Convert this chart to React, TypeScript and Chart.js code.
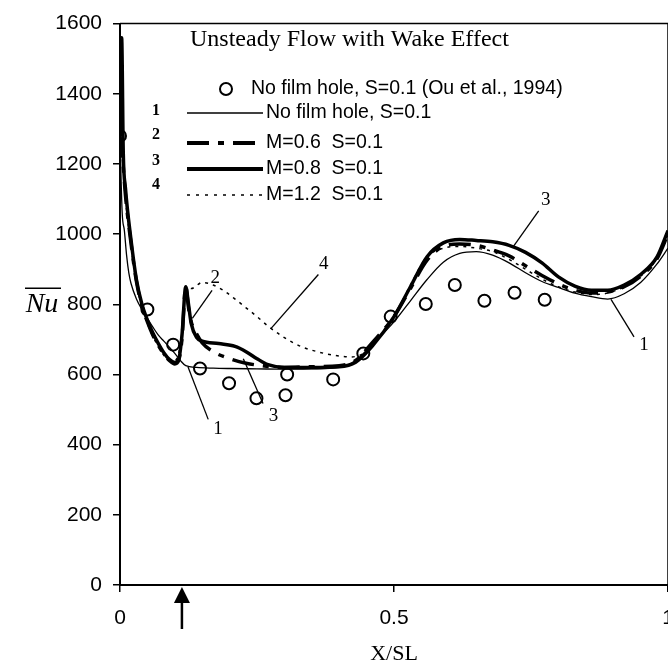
import React, { useEffect, useRef } from "react";
import { Chart, registerables } from "chart.js";

Chart.register(...registerables);

// ---- data ----
const filmHoleX = 0.113;

const ouX = [0, 0.05, 0.097, 0.146, 0.199, 0.249, 0.302, 0.305, 0.389, 0.444, 0.494, 0.558, 0.611, 0.665, 0.72, 0.775];
const ouY = [1280, 785, 685, 617, 575, 532, 541, 600, 586, 660, 765, 801, 855, 810, 833, 813];

const c1X = [0, 0.004, 0.008, 0.012, 0.016, 0.02, 0.03, 0.04, 0.05, 0.06, 0.07, 0.08, 0.09, 0.1, 0.11, 0.12, 0.14, 0.17, 0.2, 0.25, 0.3, 0.35, 0.4, 0.43, 0.46, 0.5, 0.53, 0.56, 0.59, 0.62, 0.65, 0.68, 0.71, 0.74, 0.77, 0.8, 0.83, 0.86, 0.89, 0.92, 0.95, 0.98, 1.0];
const c1Y = [1270, 1060, 1010, 940, 890, 860, 815, 785, 760, 735, 712, 695, 678, 660, 640, 625, 620, 618, 617, 616, 615, 616, 620, 640, 685, 750, 810, 870, 920, 945, 950, 940, 918, 890, 865, 848, 832, 822, 815, 830, 862, 915, 960];

const c2X = [0, 0.005, 0.01, 0.02, 0.03, 0.04, 0.05, 0.06, 0.07, 0.08, 0.09, 0.1, 0.107, 0.113, 0.12, 0.125, 0.13, 0.14, 0.15, 0.17, 0.2, 0.23, 0.26, 0.3, 0.35, 0.4, 0.43, 0.46, 0.5, 0.53, 0.56, 0.59, 0.62, 0.65, 0.68, 0.71, 0.74, 0.77, 0.8, 0.83, 0.86, 0.89, 0.92, 0.95, 0.98, 1.0];
const c2Y = [1280, 1210, 1110, 975, 865, 795, 750, 712, 683, 658, 640, 630, 640, 700, 850, 790, 750, 715, 690, 665, 645, 632, 625, 620, 622, 625, 640, 690, 765, 845, 925, 965, 972, 968, 955, 938, 910, 882, 858, 840, 832, 835, 850, 880, 930, 1000];

const c3X = [0, 0.003, 0.006, 0.01, 0.02, 0.03, 0.04, 0.05, 0.06, 0.07, 0.08, 0.09, 0.1, 0.107, 0.113, 0.12, 0.125, 0.13, 0.14, 0.15, 0.18, 0.21, 0.23, 0.25, 0.27, 0.3, 0.35, 0.4, 0.43, 0.46, 0.5, 0.53, 0.56, 0.59, 0.62, 0.65, 0.68, 0.71, 0.74, 0.77, 0.8, 0.83, 0.86, 0.89, 0.92, 0.95, 0.98, 1.0];
const c3Y = [1280, 1560, 1230, 1130, 985, 870, 800, 755, 718, 688, 662, 643, 634, 642, 710, 850, 800, 745, 705, 695, 688, 680, 665, 645, 628, 620, 620, 622, 635, 680, 765, 850, 935, 975, 985, 982, 978, 968, 948, 918, 878, 852, 840, 840, 855, 885, 935, 1010];

const c4X = [0, 0.005, 0.01, 0.02, 0.03, 0.04, 0.05, 0.06, 0.07, 0.08, 0.09, 0.1, 0.107, 0.113, 0.12, 0.13, 0.15, 0.17, 0.19, 0.21, 0.23, 0.25, 0.27, 0.3, 0.33, 0.36, 0.39, 0.42, 0.45, 0.48, 0.5, 0.53, 0.56, 0.59, 0.62, 0.65, 0.68, 0.71, 0.74, 0.77, 0.8, 0.83, 0.86, 0.89, 0.92, 0.95, 0.98, 1.0];
const c4Y = [1280, 1200, 1100, 965, 860, 790, 745, 708, 680, 655, 640, 640, 660, 720, 850, 845, 862, 855, 838, 815, 790, 765, 738, 705, 680, 665, 655, 650, 665, 720, 760, 855, 935, 960, 965, 960, 950, 928, 900, 872, 850, 835, 828, 832, 850, 880, 930, 995];

const xTicks = [0, 0.5, 1];
const xTickLabels = ["0", "0.5", "1"];

const titleText = "Unsteady Flow with Wake Effect";
const legendOu = "No film hole, S=0.1 (Ou et al., 1994)";
const legendNums = ["1", "2", "3", "4"];
const legendTexts = ["No film hole, S=0.1", "M=0.6  S=0.1", "M=0.8  S=0.1", "M=1.2  S=0.1"];

// curve call-outs
const calloutLabels = ["2", "4", "1", "3", "3", "1"];
const calloutLabelX = [0.174, 0.372, 0.179, 0.28, 0.777, 0.956];
const calloutLabelY = [874, 915, 444, 481, 1097, 684];
const calloutFromX = [0.168, 0.362, 0.161, 0.261, 0.764, 0.938];
const calloutFromY = [840, 885, 472, 517, 1066, 707];
const calloutToX = [0.132, 0.275, 0.124, 0.225, 0.718, 0.896];
const calloutToY = [760, 730, 622, 645, 965, 814];

const pts = (xs: number[], ys: number[]) => xs.map((x, i) => ({ x, y: ys[i] }));

const SANS = "'Liberation Sans', Arial, sans-serif";
const SERIF = "'Liberation Serif', 'Times New Roman', serif";

const decorPlugin = {
  id: "decor",
  afterDraw(chart: any) {
    const { ctx, chartArea } = chart;
    const xs = chart.scales.x;
    const ys = chart.scales.y;
    ctx.save();
    ctx.strokeStyle = "#000";
    ctx.fillStyle = "#000";
    // frame top and right
    ctx.lineWidth = 1.5;
    ctx.beginPath();
    ctx.moveTo(chartArea.left, chartArea.top);
    ctx.lineTo(chartArea.right, chartArea.top);
    ctx.lineTo(chartArea.right, chartArea.bottom);
    ctx.stroke();

    // arrow at film hole
    const ax = xs.getPixelForValue(filmHoleX);
    const ay = chartArea.bottom + 2;
    ctx.beginPath();
    ctx.moveTo(ax, ay);
    ctx.lineTo(ax - 8, ay + 16);
    ctx.lineTo(ax + 8, ay + 16);
    ctx.closePath();
    ctx.fill();
    ctx.lineWidth = 2.5;
    ctx.beginPath();
    ctx.moveTo(ax, ay + 14);
    ctx.lineTo(ax, ay + 42);
    ctx.stroke();

    // y-axis title: Nu with overline
    ctx.font = `italic 28px ${SERIF}`;
    ctx.textAlign = "center";
    ctx.textBaseline = "middle";
    const nx = 42;
    const ny = ys.getPixelForValue(800);
    ctx.fillText("Nu", nx, ny);
    ctx.lineWidth = 1.5;
    ctx.beginPath();
    ctx.moveTo(nx - 17, ny - 16);
    ctx.lineTo(nx + 19, ny - 16);
    ctx.stroke();

    // title
    ctx.textAlign = "left";
    ctx.font = `24px ${SERIF}`;
    ctx.fillText(titleText, 190, 40);

    // legend: Ou et al.
    ctx.lineWidth = 2;
    ctx.beginPath();
    ctx.arc(226, 89, 6, 0, Math.PI * 2);
    ctx.stroke();
    ctx.font = `19.5px ${SANS}`;
    ctx.fillText(legendOu, 251, 89);

    const rowY = [113, 143, 169, 195];
    const numY = [111, 135, 161, 185];
    const widths = [1.3, 4, 4, 1.5];
    const dashes = [[], [22, 9, 6, 9], [], [3, 6]];
    for (let i = 0; i < 4; i++) {
      ctx.font = `bold 16px ${SERIF}`;
      ctx.textAlign = "center";
      ctx.fillText(legendNums[i], 156, numY[i]);
      ctx.lineWidth = widths[i];
      ctx.setLineDash(dashes[i]);
      ctx.beginPath();
      ctx.moveTo(187, rowY[i]);
      ctx.lineTo(263, rowY[i]);
      ctx.stroke();
      ctx.setLineDash([]);
      ctx.font = `19.5px ${SANS}`;
      ctx.textAlign = "left";
      ctx.fillText(legendTexts[i], 266, rowY[i]);
    }

    // call-outs
    ctx.lineWidth = 1.3;
    ctx.font = `19px ${SERIF}`;
    ctx.textAlign = "center";
    for (let i = 0; i < calloutLabels.length; i++) {
      ctx.beginPath();
      ctx.moveTo(xs.getPixelForValue(calloutFromX[i]), ys.getPixelForValue(calloutFromY[i]));
      ctx.lineTo(xs.getPixelForValue(calloutToX[i]), ys.getPixelForValue(calloutToY[i]));
      ctx.stroke();
      ctx.fillText(calloutLabels[i], xs.getPixelForValue(calloutLabelX[i]), ys.getPixelForValue(calloutLabelY[i]));
    }
    ctx.restore();
  },
};

export default function App() {
  const ref = useRef<HTMLCanvasElement | null>(null);
  useEffect(() => {
    if (!ref.current) return;
    const chart = new Chart(ref.current, {
      type: "line",
      data: {
        datasets: [
          {
            label: "Ou",
            data: pts(ouX, ouY),
            showLine: false,
            pointStyle: "circle",
            pointRadius: 6,
            pointBorderWidth: 2,
            pointBorderColor: "#000",
            pointBackgroundColor: "rgba(255,255,255,0)",
            borderColor: "#000",
          },
          {
            label: "1",
            data: pts(c1X, c1Y),
            borderColor: "#000",
            borderWidth: 1.3,
            pointRadius: 0,
            cubicInterpolationMode: "monotone",
          },
          {
            label: "2",
            data: pts(c2X, c2Y),
            borderColor: "#000",
            borderWidth: 3.5,
            borderDash: [22, 9, 6, 9],
            pointRadius: 0,
            cubicInterpolationMode: "monotone",
          },
          {
            label: "3",
            data: pts(c3X, c3Y),
            borderColor: "#000",
            borderWidth: 3.5,
            pointRadius: 0,
            cubicInterpolationMode: "monotone",
          },
          {
            label: "4",
            data: pts(c4X, c4Y),
            borderColor: "#000",
            borderWidth: 1.5,
            borderDash: [3, 5],
            pointRadius: 0,
            cubicInterpolationMode: "monotone",
          },
        ],
      },
      options: {
        responsive: false,
        animation: false,
        devicePixelRatio: 1,
        layout: { padding: { top: 19, right: 1, left: 0, bottom: 0 } },
        plugins: { legend: { display: false }, tooltip: { enabled: false }, title: { display: false } },
        scales: {
          x: {
            type: "linear",
            min: 0,
            max: 1,
            afterBuildTicks: (s: any) => {
              s.ticks = xTicks.map((v) => ({ value: v }));
            },
            afterFit: (s: any) => {
              s.height = 82;
              s.paddingLeft = 0;
              s.paddingRight = 0;
            },
            ticks: {
              color: "#000",
              font: { family: SANS, size: 21 },
              padding: 14,
              maxRotation: 0,
              autoSkip: false,
              callback: (v: any) => {
                const i = xTicks.indexOf(Number(v));
                return i >= 0 ? xTickLabels[i] : "";
              },
            },
            grid: { drawOnChartArea: false, drawTicks: true, tickLength: 7, color: "#000", lineWidth: 1.5 },
            border: { display: true, color: "#000", width: 2 },
            title: {
              display: true,
              text: "X/SL",
              color: "#000",
              font: { family: SERIF, size: 22 },
              padding: { top: 0, bottom: 0 },
            },
          },
          y: {
            type: "linear",
            min: 0,
            max: 1600,
            afterFit: (s: any) => {
              s.width = 120;
            },
            ticks: {
              stepSize: 200,
              color: "#000",
              font: { family: SANS, size: 21 },
              padding: 11,
              callback: (v: any) => String(v),
            },
            grid: { drawOnChartArea: false, drawTicks: true, tickLength: 7, color: "#000", lineWidth: 1.5 },
            border: { display: true, color: "#000", width: 2 },
          },
        },
      },
      plugins: [decorPlugin],
    });
    return () => chart.destroy();
  }, []);
  return (
    <div style={{ position: "absolute", left: 0, top: 0, width: 668, height: 667, overflow: "hidden", background: "#fff" }}>
      <canvas ref={ref} width={676} height={667} style={{ width: 676, height: 667, display: "block" }} />
    </div>
  );
}
